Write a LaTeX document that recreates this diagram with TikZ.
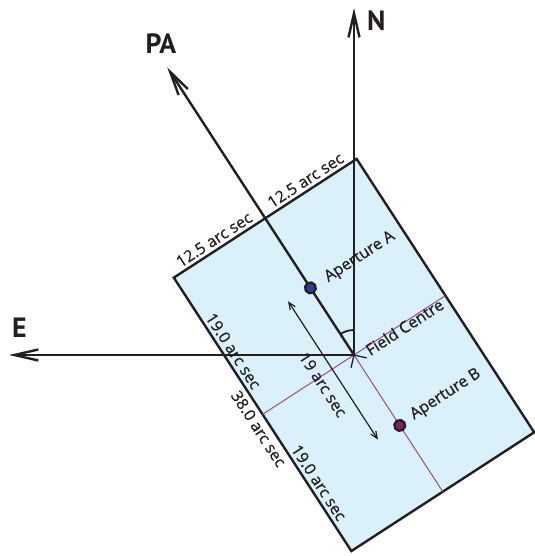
\documentclass[tikz,border=0pt]{standalone}
\usepackage{fontspec}
\setmainfont{Open Sans}
\newfontfamily\labelfont[FakeBold=0.7]{Open Sans}
\newfontfamily\dirfont{PT Sans}
\usetikzlibrary{arrows.meta}

\definecolor{fieldblue}{RGB}{218,240,250}
\definecolor{inkline}{RGB}{35,31,32}
\definecolor{guideline}{RGB}{150,75,165}
\definecolor{apblue}{RGB}{45,60,150}
\definecolor{appurple}{RGB}{125,30,110}

\begin{document}
\begin{tikzpicture}[
        x=1bp, y=1bp,
        field/.style={draw=inkline, line width=2.4bp, fill=fieldblue},
        guide/.style={draw=guideline, line width=1bp},
        axis/.style={draw=inkline, line width=2.4bp, -{Straight Barb[length=24bp, width=11bp]}},
        span/.style={draw=inkline, line width=1.2bp, {Straight Barb[length=7bp, width=6bp]}-{Straight Barb[length=7bp, width=6bp]}},
        aperture/.style={circle, draw=inkline, line width=2.2bp, minimum size=11bp, inner sep=0pt},
        dirlabel/.style={font=\dirfont\fontsize{28}{30}\selectfont\bfseries, text=inkline, inner sep=0pt},
        scalelabel/.style={font=\labelfont\fontsize{16}{18}\selectfont, text=inkline, inner sep=1bp}
    ]
    \useasboundingbox (0,0) rectangle (535,556);

    \begin{scope}[shift={(354,201)}, rotate=33, transform shape]
    \draw[field] (-109,-163) rectangle (109,163);
    \coordinate (centre) at (0,0);
    \coordinate (westmid) at (-109,0);
    \coordinate (eastmid) at (109,0);
    \coordinate (southmid) at (0,-163);
    \coordinate (patip) at (0,343);
    \coordinate (spantop) at (-26,81);
    \coordinate (spanbot) at (-26,-84);

    \draw[guide] (westmid) -- (eastmid);
    \draw[guide] (centre) -- (southmid);
    \draw[span] (spantop) -- (spanbot);
    \draw[inkline, line width=1.8bp] (centre) ++(57:25) arc[start angle=57, end angle=90, radius=25];
    \draw[inkline, line width=1.3bp] (centre) -- ++(-46:13);
    \draw[inkline, line width=1.3bp] (centre) -- ++(-136:13);
    \draw[axis] (centre) -- (patip);

    \node[aperture, fill=apblue] (apA) at (0,80) {};
    \node[aperture, fill=appurple] (apB) at (0,-84) {};

    \node[scalelabel, anchor=base west] (labA) at (17,75) {Aperture A};
    \node[scalelabel, anchor=base west] (labcentre) at (12,-10) {Field Centre};
    \node[scalelabel, anchor=base west] (labB) at (14,-87) {Aperture B};
    \node[scalelabel, anchor=south] (topleft) at (-54.5,166) {12.5 arc sec};
    \node[scalelabel, anchor=south] (topright) at (54.5,166) {12.5 arc sec};
    \node[scalelabel, rotate=-90, anchor=south] (upperside) at (-106,69) {19.0 arc sec};
    \node[scalelabel, rotate=-90, anchor=south] (lowerside) at (-106,-88) {19.0 arc sec};
    \node[scalelabel, rotate=-90, anchor=north] (fullside) at (-113,-10) {38.0 arc sec};
    \node[scalelabel, rotate=-90] (spanlabel) at (-42,-8) {19 arc sec};
    \end{scope}

    \coordinate (ntip) at (354,548);
    \coordinate (etip) at (9,201);
    \draw[axis] (centre) -- (ntip);
    \draw[axis] (centre) -- (etip);

    \node[dirlabel, anchor=west] (nlabel) at (367,535) {N};
    \node[dirlabel] (elabel) at (19.5,228) {E};
    \node[dirlabel] (palabel) at (161,512) {PA};
\end{tikzpicture}
\end{document}
